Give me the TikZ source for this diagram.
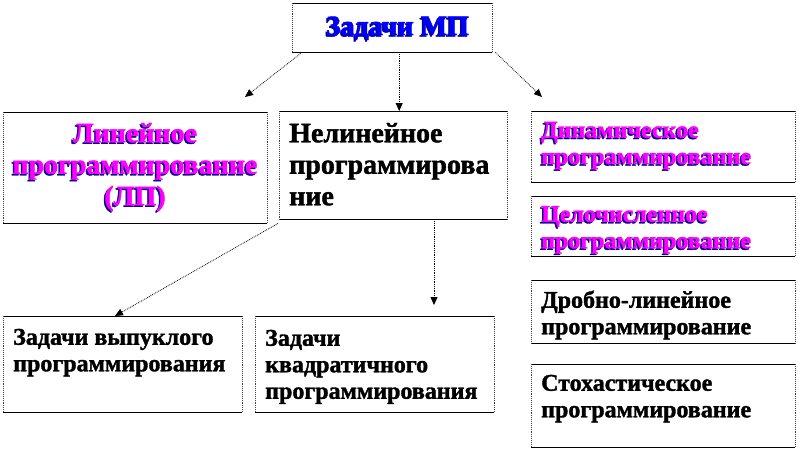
\documentclass[tikz,border=0pt]{standalone}
\usepackage{fontspec}
\setmainfont{Liberation Serif}[BoldFeatures={FakeBold=1.5}]
\usetikzlibrary{arrows.meta,calc}
\definecolor{mpmag}{RGB}{255,0,255}
\definecolor{mpblue}{RGB}{0,0,255}
\definecolor{mpnavy}{RGB}{0,0,140}
\newcommand\mpframe[1]{%
  \draw[hedge] (#1.north west) -- (#1.north east) (#1.south west) -- (#1.south east);
  \draw[vedge] (#1.north west) -- (#1.south west) (#1.north east) -- (#1.south east);}
\tikzset{
  area/.style={draw=none, inner sep=0, anchor=north west},
  hedge/.style={line width=1pt, black},
  vedge/.style={line width=0.9pt, black!75, densely dotted},
  bigtxt/.style={inner sep=0, font=\bfseries\fontsize{28}{31.5}\selectfont},
  smtxt/.style={inner sep=0, anchor=north west, align=left, font=\bfseries\fontsize{24}{26.5}\selectfont},
  conn/.style={line width=0.8pt, densely dotted, -{Triangle[length=8pt,width=7pt]}},
}
\begin{document}
\begin{tikzpicture}[x=1pt,y=-1pt]
\useasboundingbox[fill=white] (0,0) rectangle (798,450);
% boxes
\node[area, minimum width=200, minimum height=49] (top) at (292,3) {};
\node[area, minimum width=264, minimum height=111] (lin) at (3,112) {};
\node[area, minimum width=228, minimum height=108] (nelin) at (279,111) {};
\node[area, minimum width=264, minimum height=71] (din) at (531,111) {};
\node[area, minimum width=264, minimum height=60] (cel) at (531,196) {};
\node[area, minimum width=264, minimum height=63] (drob) at (531,280) {};
\node[area, minimum width=264, minimum height=83] (stoch) at (531,364) {};
\node[area, minimum width=239, minimum height=96] (vyp) at (3,316) {};
\node[area, minimum width=239, minimum height=96] (kvad) at (255,316) {};
\mpframe{top}\mpframe{lin}\mpframe{nelin}\mpframe{din}\mpframe{cel}
\mpframe{drob}\mpframe{stoch}\mpframe{vyp}\mpframe{kvad}
% texts
\node[bigtxt, anchor=base, text=mpnavy] (topsh) at (396,36.5) {Задачи МП};
\node[bigtxt, anchor=base, text=mpblue] (toptx) at (397.5,35) {Задачи МП};
\node[bigtxt, anchor=north, align=center, text=mpnavy] (linsh) at (133.5,121.5) {\strut Линейное\\программирование\\(ЛП)};
\node[bigtxt, anchor=north, align=center, text=mpmag] (lintx) at (135,120) {\strut Линейное\\программирование\\(ЛП)};
\node[bigtxt, anchor=north west, align=left] (neltx) at (289,120) {\strut Нелинейное\\программирова\\ние};
\node[smtxt, text=mpnavy] (dinsh) at (539.5,120.3) {\strut Динамическое\\программирование};
\node[smtxt, text=mpmag] (dintx) at (541,118.8) {\strut Динамическое\\программирование};
\node[smtxt, text=mpnavy] (celsh) at (539.5,204.5) {\strut Целочисленное\\программирование};
\node[smtxt, text=mpmag] (celtx) at (541,203) {\strut Целочисленное\\программирование};
\node[smtxt] (drobtx) at (541,289) {\strut Дробно-линейное\\программирование};
\node[smtxt] (stochtx) at (541,372) {\strut Стохастическое\\программирование};
\node[smtxt] (vyptx) at (13,326) {\strut Задачи выпуклого\\программирования};
\node[smtxt] (kvadtx) at (265,327) {\strut Задачи\\квадратичного\\программирования};
% connectors
\coordinate (linTip) at (245,97);
\coordinate (dinTip) at (542,97);
\coordinate (kvadTip) at (434,305);
\draw[conn] ([xshift=10]top.south west) -- (linTip);
\draw[conn] ([xshift=7]top.south) -- ([xshift=7]top.south |- nelin.north);
\draw[conn] ([xshift=3]top.south east) -- (dinTip);
\draw[conn] ([xshift=-1,yshift=-4]nelin.south west) -- ([xshift=112]vyp.north west);
\draw[conn] (nelin.south -| kvadTip) -- (kvadTip);
\end{tikzpicture}
\end{document}
